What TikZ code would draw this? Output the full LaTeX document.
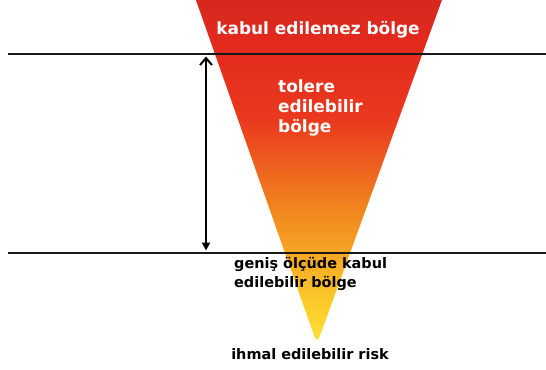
\documentclass[tikz,border=0pt]{standalone}
\usepackage{fontspec}
\setmainfont{DejaVu Sans}
\usetikzlibrary{positioning, arrows.meta}
\definecolor{rzRed}{HTML}{D22820}
\definecolor{rzBright}{HTML}{E2291D}
\definecolor{rzScarlet}{HTML}{EA3A1E}
\definecolor{rzOrange}{HTML}{F0801F}
\definecolor{rzAmber}{HTML}{F6A623}
\definecolor{rzGold}{HTML}{FCCB2A}
\definecolor{rzYellow}{HTML}{FFE23A}
\pgfdeclareverticalshading{riskFunnel}{100bp}{color(0bp)=(rzYellow); color(25bp)=(rzYellow);
  color(30.7bp)=(rzGold); color(37.8bp)=(rzAmber); color(44.9bp)=(rzOrange);
  color(56.3bp)=(rzScarlet); color(67.6bp)=(rzBright); color(75bp)=(rzRed); color(100bp)=(rzRed)}
\tikzset{
  every node/.style={font=\bfseries},
  zone/.style={line width=2.2bp, black!90},
  dim/.style={{Triangle[length=8bp,width=8bp]}-{Straight Barb[length=7bp,width=12bp,line width=2bp]}, line width=2bp},
  lblIn/.style={text=white, inner sep=0pt, font=\bfseries\fontsize{17}{20}\selectfont},
  lblOut/.style={text=black, inner sep=0pt, font=\bfseries\fontsize{14.5}{18.5}\selectfont},
}
\begin{document}
\begin{tikzpicture}[x=1bp, y=-1bp]
  \useasboundingbox (0,0) rectangle (546,369);
  % --- the risk funnel ---
  \shade[shading=riskFunnel, rounded corners=8bp]
    (191.7,-12) -- (446.3,-12) -- (317,344) -- cycle;
  % --- zone borders ---
  \coordinate (upL) at (8,54);
  \coordinate (upR) at (546,54);
  \coordinate (loL) at (8,253);
  \coordinate (loR) at (546,253);
  \draw[zone] (upL) -- (upR);
  \draw[zone] (loL) -- (loR);
  % --- span of the tolerable zone ---
  \coordinate (arrTop) at (206,56.5);
  \coordinate (arrBot) at (206,250.5);
  \draw[dim] (arrBot) -- (arrTop);
  % --- labels ---
  \node[lblIn] (unacc) at (318,30) {kabul edilemez bölge};
  \node[lblIn, align=left, anchor=west] (toler) at (278,108) {tolere\\edilebilir\\bölge};
  \node[lblOut, align=left, anchor=west] (broad) at (234,274) {geniş ölçüde kabul\\edilebilir bölge};
  \node[lblOut] (negl) at (310,354) {ihmal edilebilir risk};
\end{tikzpicture}
\end{document}
